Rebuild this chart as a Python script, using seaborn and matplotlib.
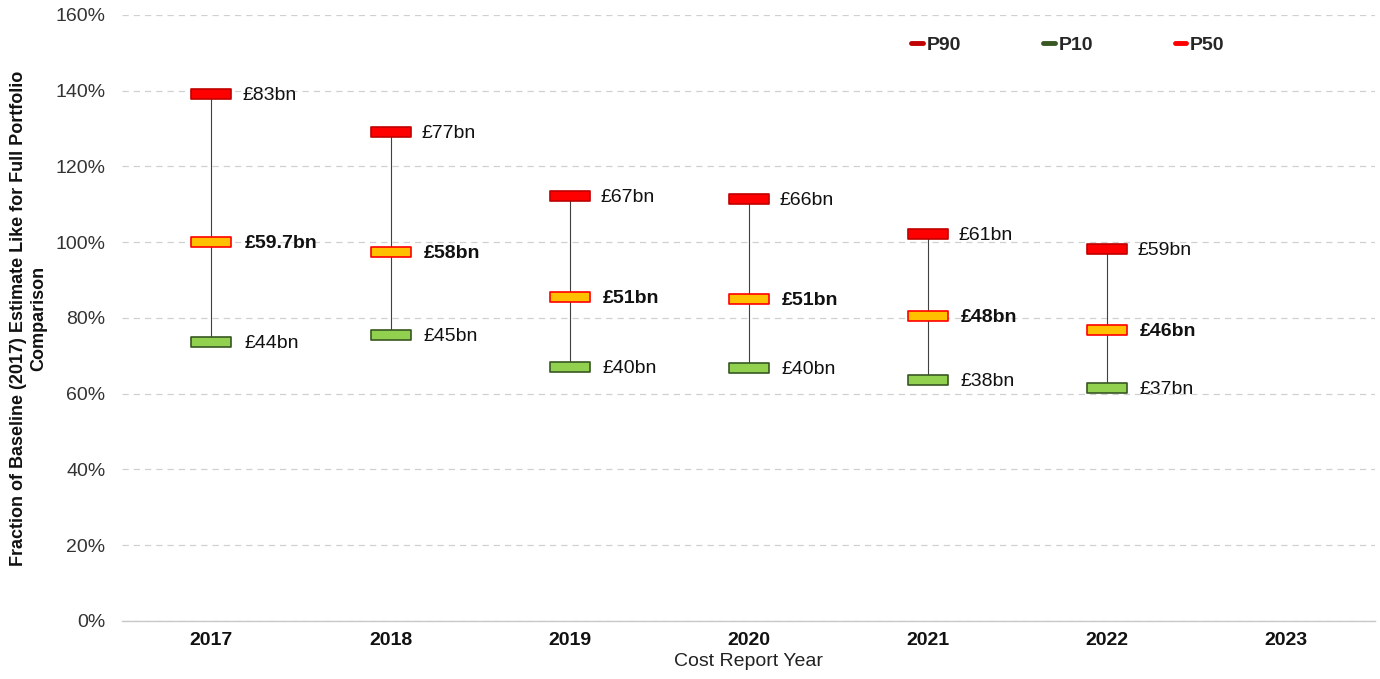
import matplotlib
matplotlib.use("Agg")
import matplotlib.pyplot as plt
from matplotlib.path import Path
from matplotlib.lines import Line2D
import seaborn as sns
import pandas as pd
import numpy as np

years = ["2017", "2018", "2019", "2020", "2021", "2022", "2023"]
p90 = [139.1, 129.1, 112.2, 111.4, 102.2, 98.2]
p50 = [100.1, 97.4, 85.5, 85.0, 80.5, 76.8]
p10 = [73.7, 75.5, 67.1, 66.8, 63.6, 61.5]
p90_labels = ["£83bn", "£77bn", "£67bn", "£66bn", "£61bn", "£59bn"]
p50_labels = ["£59.7bn", "£58bn", "£51bn", "£51bn", "£48bn", "£46bn"]
p10_labels = ["£44bn", "£45bn", "£40bn", "£40bn", "£38bn", "£37bn"]

sns.set_theme(style="white")
plt.rcParams["font.family"] = ["Liberation Sans", "DejaVu Sans"]

fig, ax = plt.subplots(figsize=(13.8, 6.79), dpi=100)
fig.subplots_adjust(left=0.0884, right=0.9964, top=0.978, bottom=0.0855)

n = len(p90)
xs = np.arange(n)
df = pd.DataFrame({"x": xs, "p90": p90, "p50": p50, "p10": p10})

# whiskers
ax.vlines(xs, df["p10"], df["p90"], color="#404040", lw=0.8, zorder=2)

rect = Path([(-1, -0.25), (1, -0.25), (1, 0.25), (-1, 0.25), (-1, -0.25)],
            [Path.MOVETO, Path.LINETO, Path.LINETO, Path.LINETO, Path.CLOSEPOLY])
msize = 820
sns.scatterplot(data=df, x="x", y="p90", marker=rect, s=msize, color="#FF0000",
                edgecolor="#C00000", linewidth=1.2, ax=ax, zorder=3, legend=False)
sns.scatterplot(data=df, x="x", y="p50", marker=rect, s=msize, color="#FFC000",
                edgecolor="#FF0000", linewidth=1.2, ax=ax, zorder=3, legend=False)
sns.scatterplot(data=df, x="x", y="p10", marker=rect, s=msize, color="#92D050",
                edgecolor="#385723", linewidth=1.2, ax=ax, zorder=3, legend=False)

fs = 14
for i in range(n):
    ax.annotate(p90_labels[i], (i, p90[i]), xytext=(22, -1), textcoords="offset points",
                ha="left", va="center", fontsize=fs, color="#111111")
    ax.annotate(p50_labels[i], (i, p50[i]), xytext=(24, -1), textcoords="offset points",
                ha="left", va="center", fontsize=fs, fontweight="bold", color="#111111")
    ax.annotate(p10_labels[i], (i, p10[i]), xytext=(24, -1), textcoords="offset points",
                ha="left", va="center", fontsize=fs, color="#111111")

ax.set_xlim(-0.5, len(years) - 0.5)
ax.set_ylim(0, 160)
ax.set_xticks(range(len(years)))
ax.set_xticklabels(years, fontsize=fs, fontweight="bold", color="#111111")
ax.set_yticks(range(0, 161, 20))
ax.set_yticklabels([f"{v}%" for v in range(0, 161, 20)], fontsize=fs, color="#333333")
ax.tick_params(axis="x", length=0, pad=8)
ax.tick_params(axis="y", length=0, pad=12)
ax.yaxis.grid(True, linestyle=(0, (5, 4)), color="#d0d0d0", lw=0.9)
ax.set_axisbelow(True)
for s in ["top", "right", "left"]:
    ax.spines[s].set_visible(False)
ax.spines["bottom"].set_color("#c8c8c8")
ax.spines["bottom"].set_linewidth(1.0)

ax.set_xlabel("Cost Report Year", fontsize=fs, color="#222222", labelpad=3)
ax.set_ylabel("Fraction of Baseline (2017) Estimate Like for Full Portfolio\nComparison",
              fontsize=13, fontweight="bold", labelpad=6, linespacing=1.25, color="#111111")

handles = [Line2D([], [], color="#C00000", lw=3.5),
           Line2D([], [], color="#385723", lw=3.5),
           Line2D([], [], color="#FF0000", lw=3.5)]
ax.legend(handles, ["P90", "P10", "P50"], ncol=3, loc="center",
          bbox_to_anchor=(0.755, 0.95), frameon=False, handlelength=0.6,
          handletextpad=0.2, columnspacing=4.2,
          prop={"size": 14, "weight": "bold"})

fig.savefig("out.png", dpi=100)
